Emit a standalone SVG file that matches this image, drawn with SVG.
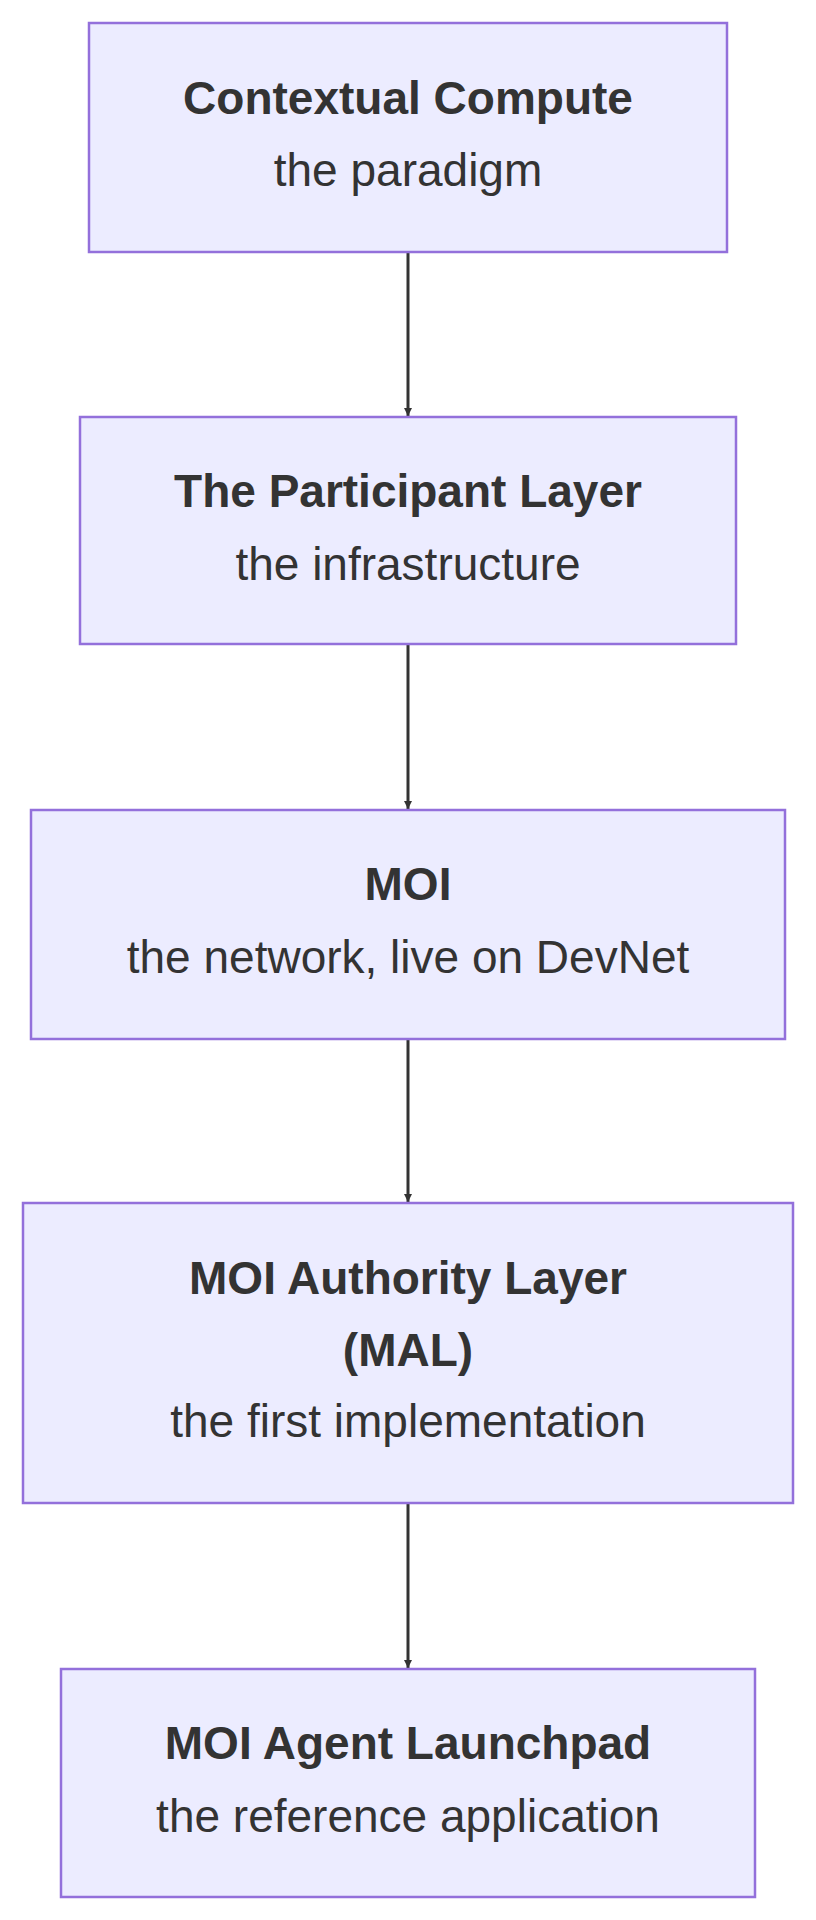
<svg xmlns="http://www.w3.org/2000/svg" width="816" height="1920" viewBox="0 0 816 1920">
<style>
.n{fill:#ECECFF;stroke:#9370DB;stroke-width:2.5}
.t{font-family:"Liberation Sans",Arial,sans-serif;font-size:46px;fill:#333;text-anchor:middle}
.b{font-weight:bold}
.e{stroke:#333;stroke-width:3;fill:none}
</style>
<defs><marker id="a" viewBox="0 0 10 10" refX="10" refY="5" markerWidth="8" markerHeight="8" markerUnits="userSpaceOnUse" orient="auto"><path d="M0,0L10,5L0,10z" fill="#333"/></marker></defs>
<rect width="816" height="1920" fill="#fff"/>
<g id="edges">
<path class="e" d="M408,252V416" marker-end="url(#a)" style="marker-end:url(#a)"/>
<path class="e" d="M408,644V809" marker-end="url(#a)"/>
<path class="e" d="M408,1039V1202" marker-end="url(#a)"/>
<path class="e" d="M408,1503V1668" marker-end="url(#a)"/>
</g>
<g id="n1"><rect class="n" x="89" y="23" width="638" height="229"/><text class="t b" x="408" y="114">Contextual Compute</text><text class="t" x="408" y="186">the paradigm</text></g>
<g id="n2"><rect class="n" x="80" y="417" width="656" height="227"/><text class="t b" x="408" y="507">The Participant Layer</text><text class="t" x="408" y="580">the infrastructure</text></g>
<g id="n3"><rect class="n" x="31" y="810" width="754" height="229"/><text class="t b" x="408" y="900">MOI</text><text class="t" x="408" y="973">the network, live on DevNet</text></g>
<g id="n4"><rect class="n" x="23" y="1203" width="770" height="300"/><text class="t b" x="408" y="1294">MOI Authority Layer</text><text class="t b" x="408" y="1366">(MAL)</text><text class="t" x="408" y="1437">the first implementation</text></g>
<g id="n5"><rect class="n" x="61" y="1669" width="694" height="228"/><text class="t b" x="408" y="1759">MOI Agent Launchpad</text><text class="t" x="408" y="1832">the reference application</text></g>
</svg>
